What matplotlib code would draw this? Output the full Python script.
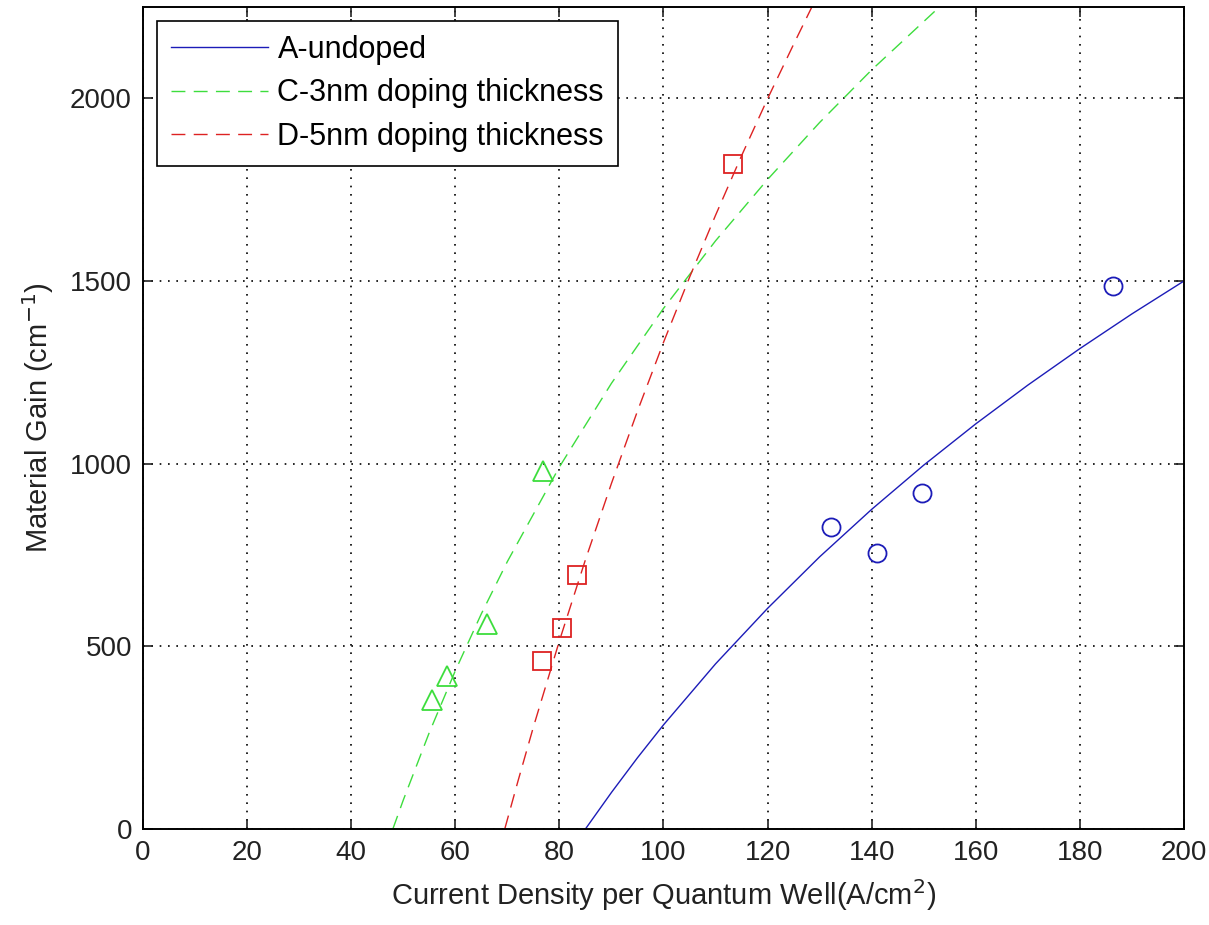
import numpy as np
import matplotlib
matplotlib.use("Agg")
import matplotlib.pyplot as plt

# -----------------------------------------------------
# measured points
# -----------------------------------------------------
a_j = [132.2, 141.0, 149.7, 186.4]
a_g = [827, 756, 920, 1485]

c_j = [55.5, 58.4, 66.1, 76.8]
c_g = [353, 419, 562, 981]

d_j = [76.7, 80.5, 83.4, 113.4]
d_g = [460, 551, 696, 1819]

# -----------------------------------------------------
# fitted curves
# -----------------------------------------------------
a_fit_j = [85, 90, 95, 100, 110, 120, 130, 140, 150, 160, 170, 180, 190, 200]
a_fit_g = [0, 100, 195, 285, 452, 604, 745, 875, 996, 1109, 1215, 1315, 1410, 1500]

c_fit_j = [48, 50, 55, 60, 65, 70, 80, 90, 100, 110, 120, 130, 140, 153]
c_fit_g = [0, 79, 264, 433, 589, 732, 991, 1220, 1425, 1610, 1778, 1934, 2078, 2250]

d_fit_j = [69.5, 72, 75, 80, 85, 90, 95, 100, 105, 110, 115, 120, 125, 128.5]
d_fit_g = [0, 129, 279, 515, 737, 946, 1144, 1332, 1510, 1680, 1843, 1999, 2148, 2250]

x_ticks = list(range(0, 201, 20))
y_ticks = [0, 500, 1000, 1500, 2000]

blue = "#1c1cb8"
green = "#3ddd3d"
red = "#dd2222"

plt.rcParams["font.family"] = ["Liberation Sans", "DejaVu Sans"]

fig = plt.figure(figsize=(12.09, 9.25), dpi=100)
ax = fig.add_axes([0.1183, 0.1038, 0.861, 0.8886])

ax.plot(a_fit_j, a_fit_g, "-", color=blue, lw=1.0, label="A-undoped")
ax.plot(c_fit_j, c_fit_g, "--", color=green, lw=1.0, dashes=(10, 6),
        label="C-3nm doping thickness")
ax.plot(d_fit_j, d_fit_g, "--", color=red, lw=1.0, dashes=(10, 6),
        label="D-5nm doping thickness")

ax.plot(a_j, a_g, "o", mfc="none", mec=blue, ms=13, mew=1.3)
ax.plot(c_j, c_g, "^", mfc="none", mec=green, ms=15, mew=1.3)
ax.plot(d_j, d_g, "s", mfc="none", mec=red, ms=13, mew=1.3)

ax.set_xlim(0, 200)
ax.set_ylim(0, 2250)
ax.set_xticks(x_ticks)
ax.set_yticks(y_ticks)
ax.grid(True, color="black", linestyle=(0, (1, 4)), linewidth=1.2)
ax.tick_params(direction="in", length=7, width=1.2, top=True, right=True,
               labelsize=20, pad=8, colors="#222222")
for s in ax.spines.values():
    s.set_linewidth(1.4)

ax.set_xlabel("Current Density per Quantum Well(A/cm$^2$)", fontsize=21,
              color="#222222", labelpad=8)
ax.set_ylabel("Material Gain (cm$^{-1}$)", fontsize=21, color="#222222",
              labelpad=10)

leg = ax.legend(loc="upper left", fontsize=22, handlelength=3.2,
                fancybox=False, framealpha=1, edgecolor="black",
                borderaxespad=0.45, labelspacing=0.45, handletextpad=0.3,
                borderpad=0.45)
leg.get_frame().set_linewidth(1.2)

fig.savefig("out.png", dpi=100)
